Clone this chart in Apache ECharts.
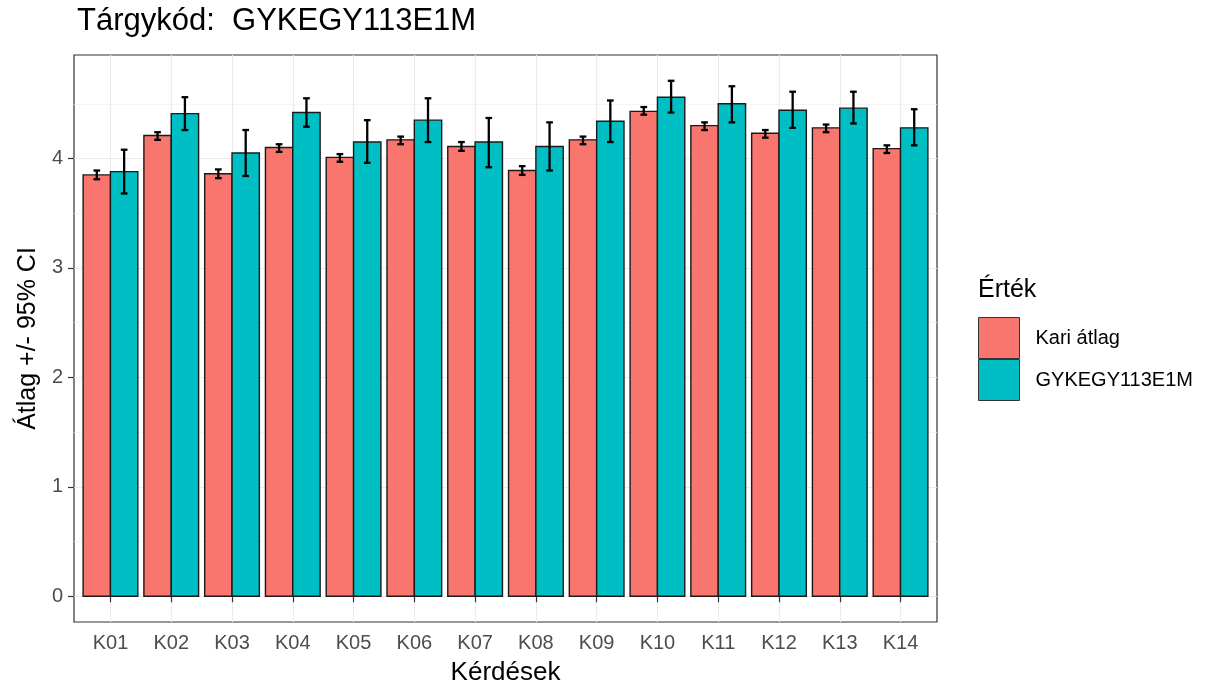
<!DOCTYPE html>
<html>
<head>
<meta charset="utf-8">
<script src="https://cdn.jsdelivr.net/npm/echarts@6/dist/echarts.min.js"></script>
<style>
html,body{margin:0;padding:0;background:#fff;}
#chart{width:1212px;height:682px;}
</style>
</head>
<body>
<div id="chart"></div>
<script>
const categories = ['K01','K02','K03','K04','K05','K06','K07','K08','K09','K10','K11','K12','K13','K14'];
const kariMean = [3.85, 4.21, 3.86, 4.10, 4.01, 4.17, 4.11, 3.89, 4.17, 4.43, 4.30, 4.23, 4.28, 4.09];
const kariLow  = [3.81, 4.17, 3.82, 4.06, 3.97, 4.13, 4.07, 3.85, 4.13, 4.40, 4.26, 4.19, 4.24, 4.05];
const kariHigh = [3.89, 4.24, 3.90, 4.13, 4.04, 4.20, 4.15, 3.93, 4.20, 4.47, 4.33, 4.26, 4.31, 4.12];
const targyMean = [3.88, 4.41, 4.05, 4.42, 4.15, 4.35, 4.15, 4.11, 4.34, 4.56, 4.50, 4.44, 4.46, 4.28];
const targyLow  = [3.68, 4.26, 3.84, 4.29, 3.96, 4.15, 3.92, 3.89, 4.15, 4.42, 4.33, 4.28, 4.32, 4.12];
const targyHigh = [4.08, 4.56, 4.26, 4.55, 4.35, 4.55, 4.37, 4.33, 4.53, 4.71, 4.66, 4.61, 4.61, 4.45];
const yTicks = [0, 1, 2, 3, 4];
const yMinorTicks = [0.5, 1.5, 2.5, 3.5, 4.5];
const seriesNames = ['Kari átlag', 'GYKEGY113E1M'];
const colors = ['#F8766D', '#00BFC4'];

const xPositions = categories.map((c, i) => i + 1);
const yMaxData = Math.max(...targyHigh, ...kariHigh);
const yMin = -0.05 * yMaxData;
const yMax = 1.05 * yMaxData;

function buildData(mean, low, high) {
  return categories.map((c, i) => [xPositions[i], mean[i], low[i], high[i]]);
}

const barW = 0.45;
function makeRender(offset) {
  return function (params, api) {
    const x = api.value(0), m = api.value(1), lo = api.value(2), hi = api.value(3);
    const left = x + offset;
    const p0 = api.coord([left, 0]);
    const p1 = api.coord([left + barW, m]);
    const mid = left + barW / 2;
    const pLo = api.coord([mid, lo]);
    const pHi = api.coord([mid, hi]);
    const half = api.size([0.055, 0])[0];
    const eb = { stroke: '#000', lineWidth: 2.3 };
    return {
      type: 'group',
      children: [
        { type: 'rect', shape: { x: p0[0], y: p1[1], width: p1[0] - p0[0], height: p0[1] - p1[1] },
          style: { fill: api.visual('color'), stroke: '#1a1a1a', lineWidth: 1.4 } },
        { type: 'line', shape: { x1: pLo[0], y1: pHi[1], x2: pLo[0], y2: pLo[1] }, style: eb },
        { type: 'line', shape: { x1: pLo[0] - half, y1: pHi[1], x2: pLo[0] + half, y2: pHi[1] }, style: eb },
        { type: 'line', shape: { x1: pLo[0] - half, y1: pLo[1], x2: pLo[0] + half, y2: pLo[1] }, style: eb }
      ]
    };
  };
}

const font = 'Liberation Sans, Arial, sans-serif';
const chart = echarts.init(document.getElementById('chart'), null, { renderer: 'canvas' });
chart.setOption({
  animation: false,
  backgroundColor: '#fff',
  textStyle: { fontFamily: font },
  graphic: [
    { type: 'text', left: 77, top: 6, style: { text: 'Tárgykód:  GYKEGY113E1M', fontSize: 31, fontFamily: font, fill: '#000' } },
    { type: 'text', left: 978, top: 278, style: { text: 'Érték', fontSize: 25, fontFamily: font, fill: '#000' } }
  ],
  legend: {
    orient: 'vertical',
    left: 978,
    top: 317,
    itemWidth: 41,
    itemHeight: 41,
    itemGap: 0,
    padding: 0,
    icon: 'rect',
    itemStyle: { borderColor: '#333', borderWidth: 1 },
    textStyle: { fontSize: 20, color: '#000', fontFamily: font, padding: [0, 0, 0, 11] },
    data: seriesNames
  },
  grid: {
    left: 74, right: 275, top: 55, bottom: 60,
    outerBoundsMode: 'none',
    containLabel: false,
    show: true, borderColor: '#333', borderWidth: 1.2, backgroundColor: '#fff'
  },
  xAxis: {
    type: 'value',
    min: 0.4, max: 14.6,
    name: 'Kérdések',
    nameLocation: 'middle',
    nameGap: 38,
    nameTextStyle: { fontSize: 26, color: '#000', fontFamily: font },
    axisLine: { show: false },
    axisTick: { show: true, length: 6, customValues: xPositions, lineStyle: { color: '#333', width: 1.2 } },
    axisLabel: { customValues: xPositions, formatter: v => categories[Math.round(v) - 1], fontSize: 20, color: '#4D4D4D', margin: 11, fontFamily: font },
    splitLine: { show: true, lineStyle: { color: '#EBEBEB', width: 1.2 } }
  },
  yAxis: [
    {
      type: 'value',
      min: yMin, max: yMax,
      name: 'Átlag +/- 95% CI',
      nameLocation: 'middle',
      nameGap: 27,
      nameTextStyle: { fontSize: 25, color: '#000', fontFamily: font },
      axisLine: { show: false },
      axisTick: { show: true, length: 6, customValues: yTicks, lineStyle: { color: '#333', width: 1.2 } },
      axisLabel: { customValues: yTicks, fontSize: 20, color: '#4D4D4D', margin: 11, fontFamily: font },
      splitLine: { show: true, lineStyle: { color: '#EBEBEB', width: 1.2 } }
    },
    {
      type: 'value',
      min: yMin, max: yMax,
      position: 'left',
      axisLine: { show: false },
      axisTick: { show: false, customValues: yMinorTicks },
      axisLabel: { show: false, customValues: yMinorTicks },
      splitLine: { show: true, lineStyle: { color: '#F2F2F2', width: 0.8 } }
    }
  ],
  series: [
    {
      name: seriesNames[0], type: 'custom', itemStyle: { color: colors[0] },
      encode: { x: 0, y: [1, 2, 3] },
      renderItem: makeRender(-barW), data: buildData(kariMean, kariLow, kariHigh)
    },
    {
      name: seriesNames[1], type: 'custom', itemStyle: { color: colors[1] },
      encode: { x: 0, y: [1, 2, 3] },
      renderItem: makeRender(0), data: buildData(targyMean, targyLow, targyHigh)
    }
  ]
});
</script>
</body>
</html>
